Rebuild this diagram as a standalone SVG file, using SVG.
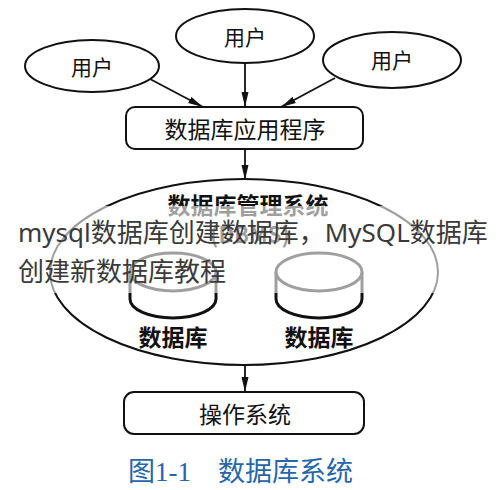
<svg xmlns="http://www.w3.org/2000/svg" width="499" height="490" viewBox="0 0 499 490">
<defs>
<marker id="ah" markerUnits="userSpaceOnUse" markerWidth="16" markerHeight="8" refX="15" refY="4" orient="auto">
<path d="M0,0.5 L15,4 L0,7.5 Z" fill="#111"/>
</marker>
<style>
.sh{fill:#fff;stroke:#111;stroke-width:2}
.ln{stroke:#111;stroke-width:1.8;fill:none}
.t{font-family:"Noto Sans CJK SC","Noto Sans",sans-serif;fill:#111;text-anchor:middle;dominant-baseline:central}
.b{font-weight:bold}
.cy{fill:#fff;stroke:#111;stroke-width:3}
</style>
</defs>
<rect width="499" height="490" fill="#fff"/>
<g id="edges">
<line class="ln" x1="150" y1="79" x2="203" y2="107" marker-end="url(#ah)"/>
<line class="ln" x1="245" y1="63" x2="245" y2="107" marker-end="url(#ah)"/>
<line class="ln" x1="335" y1="78" x2="281" y2="107" marker-end="url(#ah)"/>
<line class="ln" x1="245" y1="149" x2="245" y2="180" marker-end="url(#ah)"/>
<line class="ln" x1="245" y1="365" x2="245" y2="392" marker-end="url(#ah)"/>
</g>
<g id="user1"><ellipse class="sh" cx="92" cy="66" rx="67" ry="26"/><text class="t" x="92" y="66" font-size="21">用户</text></g>
<g id="user2"><ellipse class="sh" cx="245" cy="36" rx="69" ry="27"/><text class="t" x="245" y="36" font-size="21">用户</text></g>
<g id="user3"><ellipse class="sh" cx="392" cy="60" rx="69" ry="28"/><text class="t" x="392" y="59" font-size="21">用户</text></g>
<g id="app"><rect class="sh" x="126" y="107" width="237" height="42" rx="9"/><text class="t" x="245" y="128" font-size="23">数据库应用程序</text></g>
<g id="dbms">
<ellipse class="sh" cx="244" cy="272" rx="194" ry="93"/>
<text class="t b" x="248" y="204" font-size="23">数据库管理系统</text>
<text class="t b" x="250" y="233" font-size="22" fill="#555">(DBMS)</text>
</g>
<g id="db1">
<path class="cy" d="M130,272 L130,299 A43,19 0 0 0 216,299 L216,272"/>
<ellipse class="cy" cx="173" cy="272" rx="43" ry="19"/>
<text class="t b" x="173" y="336" font-size="23">数据库</text>
</g>
<g id="db2">
<path class="cy" d="M276,272 L276,299 A43,19 0 0 0 362,299 L362,272"/>
<ellipse class="cy" cx="319" cy="272" rx="43" ry="19"/>
<text class="t b" x="319" y="336" font-size="23">数据库</text>
</g>
<g id="os"><rect class="sh" x="124" y="392" width="240" height="42" rx="10"/><text class="t" x="245" y="413" font-size="23">操作系统</text></g>
<rect x="0" y="206" width="499" height="87" fill="#fff" opacity="0.6"/>
<g id="caption" fill="#2766a8">
<text x="128" y="481" font-size="27" font-family="'Liberation Serif','Noto Sans CJK SC',serif" fill="#2766a8">图1-1</text>
<text x="218" y="481" font-size="27" font-family="'Noto Sans CJK SC',sans-serif" fill="#2766a8">数据库系统</text>
</g>
<g id="overlay" font-family="'Noto Sans','Noto Sans CJK SC',sans-serif" font-size="26" fill="#3a3a3a">
<text x="18" y="242">mysql数据库创建数据库，MySQL数据库</text>
<text x="18" y="281">创建新数据库教程</text>
</g>
</svg>
